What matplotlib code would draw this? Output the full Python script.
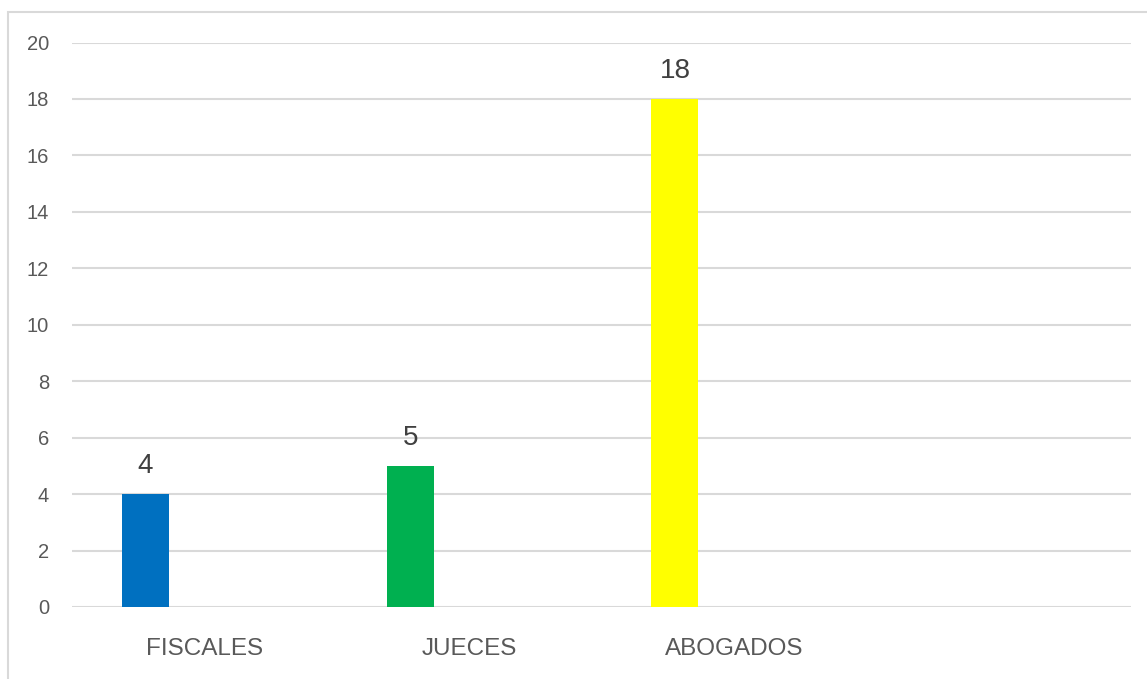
import matplotlib
matplotlib.use("Agg")
import matplotlib.pyplot as plt
from matplotlib.patches import Rectangle

categories = ["FISCALES", "JUECES", "ABOGADOS", ""]
values = [4, 5, 18, None]
colors = ["#0070C0", "#00B050", "#FFFF00"]
yticks = [0, 2, 4, 6, 8, 10, 12, 14, 16, 18, 20]

W, H = 1147, 679
fig = plt.figure(figsize=(W / 100, H / 100), dpi=100)
fig.patch.set_facecolor("white")

# chart frame (light gray border)
fig.add_artist(Rectangle((8 / W, -0.05), 1.2, 1 - 12 / H + 0.05, transform=fig.transFigure,
                         fill=False, edgecolor="#d9d9d9", linewidth=1.5))

ax = fig.add_axes([72 / W, 1 - 607 / H, (1131 - 72) / W, (607 - 42.5) / H])
ax.set_xlim(-0.5, len(categories) - 0.5)
ax.set_ylim(0, 20)

offset = -0.2225
width = 0.1775
for i, v in enumerate(values):
    if v is None:
        continue
    ax.bar(i + offset, v, width=width, color=colors[i], zorder=3)
    ax.annotate(str(v), (i + offset, v), xytext=(0, 11), textcoords="offset points",
                ha="center", va="bottom", fontsize=20, color="#404040",
                family="Liberation Sans")

ax.set_yticks(yticks)
ax.set_yticklabels([str(t) for t in yticks], fontsize=14.5, color="#595959",
                   family="Liberation Sans")
ax.set_xticks(range(len(categories)))
ax.set_xticklabels(categories, fontsize=17.5, color="#595959", family="Liberation Sans")
ax.tick_params(axis="y", length=0, pad=16.5)
ax.tick_params(axis="x", length=0, pad=22)

ax.grid(axis="y", color="#d9d9d9", linewidth=1.5, zorder=0)
for s in ax.spines.values():
    s.set_visible(False)
ax.set_facecolor("none")

fig.savefig("out.png", dpi=100, facecolor="white")
